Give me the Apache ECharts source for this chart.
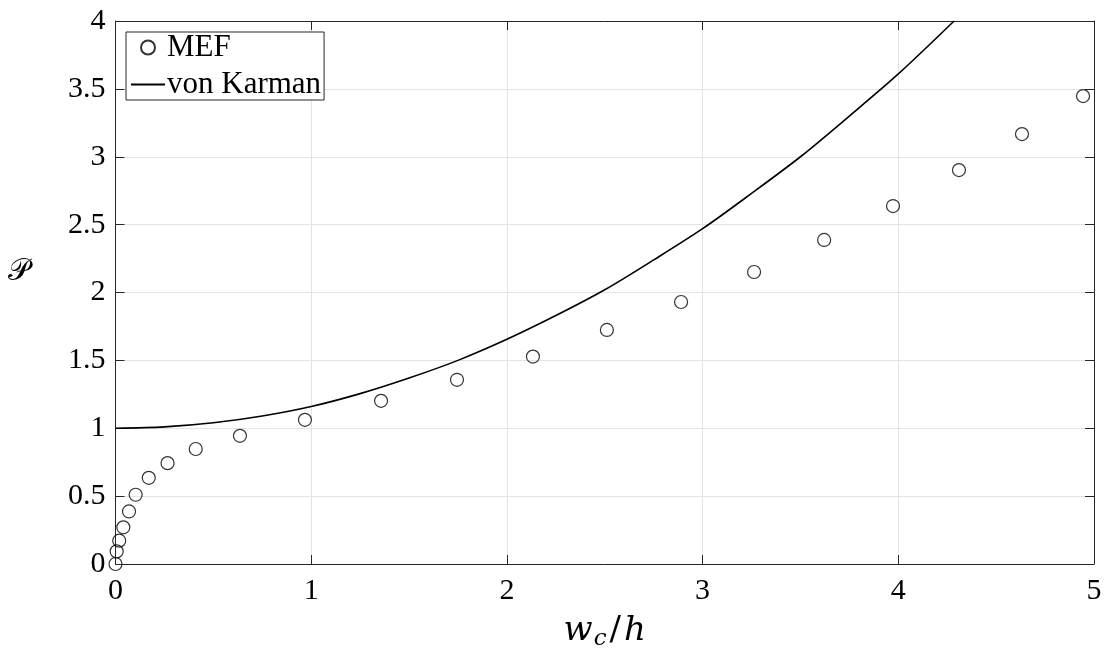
<!DOCTYPE html>
<html>
<head>
<meta charset="utf-8">
<script src="https://cdn.jsdelivr.net/npm/echarts@6/dist/echarts.min.js"></script>
<style>
html,body{margin:0;padding:0;background:#fff;}
#c{width:1105px;height:656px;}
</style>
</head>
<body>
<div id="c"></div>
<script>
// MEF results
var mefX = [0, 0.006, 0.019, 0.04, 0.069, 0.103, 0.170, 0.266, 0.410, 0.636, 0.968, 1.357, 1.745, 2.133, 2.511, 2.890, 3.263, 3.621, 3.973, 4.310, 4.632, 4.944];
var mefY = [0, 0.093, 0.172, 0.270, 0.387, 0.510, 0.635, 0.743, 0.847, 0.944, 1.062, 1.202, 1.357, 1.528, 1.724, 1.930, 2.151, 2.387, 2.637, 2.902, 3.167, 3.447];
// von Karman curve
var vkX = [0, 0.25, 0.5, 0.75, 1, 1.25, 1.5, 1.75, 2, 2.25, 2.5, 2.75, 3, 3.25, 3.5, 3.75, 4, 4.285];
var vkY = [1, 1.01, 1.04, 1.09, 1.16, 1.255, 1.37, 1.50, 1.655, 1.83, 2.02, 2.24, 2.47, 2.73, 3.00, 3.30, 3.61, 4.0];
var xTicks = [0, 1, 2, 3, 4, 5];
var yTicks = [0, 0.5, 1, 1.5, 2, 2.5, 3, 3.5, 4];

var FONT = 'Liberation Serif';
var AX = '#262626';
var chart = echarts.init(document.getElementById('c'));

function pairs(xs, ys){ return xs.map(function(x,i){ return [x, ys[i]]; }); }

var option = {
  animation: false,
  backgroundColor: '#fff',
  grid: { left: 115.5, right: 11, top: 21, bottom: 92, containLabel: false, outerBoundsMode: 'none' },
  legend: {
    left: 126, top: 32, orient: 'vertical',
    backgroundColor: '#fff', borderColor: AX, borderWidth: 1,
    padding: [0, 3, 0, 4], itemGap: 6, itemWidth: 34, itemHeight: 14,
    textStyle: { fontFamily: FONT, fontSize: 31, color: '#000', padding: [0, 0, 0, -3] },
    data: [{ name: 'MEF' }, { name: 'von Karman', itemStyle: { opacity: 0 } }]
  },
  xAxis: [{
    type: 'value', min: xTicks[0], max: xTicks[xTicks.length-1], interval: 1,
    name: '{i|w}{s|c}{d|/}{i|h}', nameLocation: 'middle', nameGap: 48,
    nameTextStyle: { rich: {
      i: { fontFamily: 'DejaVu Serif', fontStyle: 'italic', fontSize: 34, color: '#000' },
      d: { fontFamily: 'DejaVu Serif', fontStyle: 'normal', fontSize: 34, color: '#000', padding: [0, 3, 0, 3] },
      s: { fontFamily: 'DejaVu Serif', fontStyle: 'italic', fontSize: 23, color: '#000', padding: [16, 0, 0, 1] }
    } },
    axisLine: { show: true, onZero: false, lineStyle: { color: AX, width: 1 } },
    axisTick: { show: true, inside: true, length: 9, lineStyle: { color: AX } },
    axisLabel: { fontFamily: FONT, fontSize: 30, color: '#000', margin: 12 },
    splitLine: { show: true, lineStyle: { color: '#e3e3e3', width: 1 } }
  }, {
    type: 'value', position: 'top', min: 0, max: 5, interval: 1,
    axisLine: { show: true, onZero: false, lineStyle: { color: AX, width: 1 } },
    axisTick: { show: true, inside: true, length: 9, lineStyle: { color: AX } },
    axisLabel: { show: false }, splitLine: { show: false }
  }],
  yAxis: [{
    type: 'value', min: yTicks[0], max: yTicks[yTicks.length-1], interval: 0.5,
    name: '𝒫', nameLocation: 'middle', nameGap: 86, nameRotate: 0,
    nameTextStyle: { fontFamily: 'DejaVu Serif', fontSize: 30, color: '#000', verticalAlign: 'bottom', lineHeight: 40 },
    axisLine: { show: true, onZero: false, lineStyle: { color: AX, width: 1 } },
    axisTick: { show: true, inside: true, length: 9, lineStyle: { color: AX } },
    axisLabel: { fontFamily: FONT, fontSize: 30, color: '#000', margin: 10 },
    splitLine: { show: true, lineStyle: { color: '#e3e3e3', width: 1 } }
  }, {
    type: 'value', position: 'right', min: 0, max: 4, interval: 0.5,
    axisLine: { show: true, onZero: false, lineStyle: { color: AX, width: 1 } },
    axisTick: { show: true, inside: true, length: 9, lineStyle: { color: AX } },
    axisLabel: { show: false }, splitLine: { show: false }
  }],
  series: [{
    name: 'MEF', type: 'scatter', symbol: 'circle', symbolSize: 13,
    itemStyle: { color: 'rgba(0,0,0,0)', borderColor: '#000', borderWidth: 1.2 },
    data: pairs(mefX, mefY), z: 3
  }, {
    name: 'von Karman', type: 'line', symbol: 'none', smooth: 0.3,
    lineStyle: { color: '#000', width: 1.6 },
    itemStyle: { color: '#000' },
    data: pairs(vkX, vkY), z: 2
  }]
};
chart.setOption(option);
</script>
</body>
</html>
